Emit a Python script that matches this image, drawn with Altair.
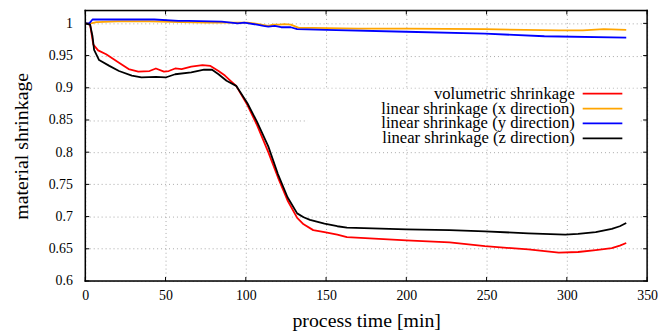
import altair as alt
import pandas as pd

# --- data ---
t_vol = [0, 3, 5, 8, 13, 21, 27, 33, 40, 44, 49, 52, 56, 60, 66, 73, 78, 83, 87, 90, 94, 101, 107, 114, 120, 126, 132, 136, 142, 149, 157, 163, 200, 227, 249, 276, 295, 307, 318, 328, 333, 337]
v_vol = [1.0, 0.998, 0.967, 0.958, 0.952, 0.939, 0.929, 0.925, 0.926, 0.930, 0.925, 0.926, 0.930, 0.929, 0.933, 0.935, 0.934, 0.926, 0.919, 0.912, 0.903, 0.873, 0.842, 0.800, 0.761, 0.725, 0.698, 0.688, 0.679, 0.676, 0.672, 0.668, 0.663, 0.660, 0.654, 0.649, 0.644, 0.645, 0.648, 0.651, 0.655, 0.659]

t_x = [0, 3.5, 7, 20, 40, 60, 76, 95, 101, 108, 114, 117, 121, 124, 128, 130, 133, 142, 170, 200, 249, 295, 310, 323, 337]
v_x = [1.0, 1.0, 1.002, 1.003, 1.003, 1.002, 1.001, 1.001, 1.001, 0.999, 0.996, 0.998, 0.998, 0.999, 0.998, 0.996, 0.993, 0.993, 0.992, 0.992, 0.991, 0.989, 0.989, 0.991, 0.990]

t_y = [0, 2.5, 4.5, 10, 25, 43, 58, 64, 78, 85, 95, 99, 107, 111, 114, 118, 122, 128, 132, 150, 200, 249, 286, 337]
v_y = [1.0, 1.0, 1.006, 1.006, 1.006, 1.006, 1.004, 1.004, 1.003, 1.0026, 1.0, 1.001, 0.998, 0.996, 0.995, 0.996, 0.994, 0.994, 0.991, 0.990, 0.987, 0.984, 0.980, 0.978]

t_z = [0, 3, 4.5, 5.5, 8.6, 15, 21, 29, 35, 44, 50, 56, 66, 74, 79, 83, 88, 94, 101, 107, 114, 120, 126, 132, 136, 140, 149, 157, 163, 200, 227, 249, 276, 299, 307, 318, 328, 333, 337]
v_z = [1.0, 0.998, 0.98, 0.959, 0.943, 0.934, 0.926, 0.919, 0.916, 0.917, 0.916, 0.921, 0.924, 0.928, 0.928, 0.921, 0.911, 0.903, 0.876, 0.847, 0.809, 0.766, 0.730, 0.705, 0.699, 0.695, 0.689, 0.685, 0.683, 0.680, 0.679, 0.677, 0.674, 0.672, 0.673, 0.676, 0.681, 0.685, 0.690]

series_names = ["volumetric shrinkage", "linear shrinkage (x direction)",
                "linear shrinkage (y direction)", "linear shrinkage (z direction)"]
series_colors = ["#ff0000", "#ffa500", "#0000ff", "#000000"]
series_t = [t_vol, t_x, t_y, t_z]
series_v = [v_vol, v_x, v_y, v_z]

x_ticks = [0, 50, 100, 150, 200, 250, 300, 350]
y_ticks = [0.6, 0.65, 0.7, 0.75, 0.8, 0.85, 0.9, 0.95, 1.0]

W, H = 567, 273
FONT = "Liberation Serif"

xs = alt.Scale(domain=[0, 350], nice=False, zero=False)
ys = alt.Scale(domain=[0.6, 1.02], nice=False, zero=False)

x_axis = alt.Axis(values=x_ticks, title="process time [min]", grid=True, ticks=False, domain=False,
                  labelFont=FONT, labelFontSize=14, labelColor="black", labelPadding=8,
                  labelOverlap=False, labelFlush=False,
                  titleFont=FONT, titleFontSize=20, titleFontWeight="normal", titleColor="black",
                  titleY=40, titleBaseline="middle",
                  gridColor="#a8a8a8", gridDash=[1, 3], gridWidth=1)
y_axis = alt.Axis(values=y_ticks, title="material shrinkage", grid=True, ticks=False, domain=False,
                  labelFont=FONT, labelFontSize=14, labelColor="black", labelPadding=13,
                  labelOverlap=False, labelFlush=False,
                  labelExpr="datum.value == 1 ? '1' : format(datum.value, '.2~f')",
                  titleFont=FONT, titleFontSize=20, titleFontWeight="normal", titleColor="black",
                  titleX=-64, titleY=H / 2, titleAngle=270, titleAlign="center", titleBaseline="middle",
                  gridColor="#a8a8a8", gridDash=[1, 3], gridWidth=1)


def X(field):
    return alt.X(field, scale=xs, axis=x_axis)


def Y(field):
    return alt.Y(field, scale=ys, axis=y_axis)


base_df = pd.DataFrame({"t": [0.0], "v": [0.6]})
axes_layer = alt.Chart(base_df).mark_point(opacity=0).encode(x=X("t:Q"), y=Y("v:Q"))

layers = [axes_layer]

# white opaque key box
layers.append(alt.Chart(base_df).mark_rect(color="white").encode(
    x=alt.value(224), x2=alt.value(560), y=alt.value(79), y2=alt.value(137)))

# inward ticks
xt = pd.DataFrame({"t": x_ticks})
yt = pd.DataFrame({"v": y_ticks})
tick_len = 4
layers.append(alt.Chart(xt).mark_rule(color="black", strokeWidth=1).encode(
    x=X("t:Q"), y=alt.value(H), y2=alt.value(H - tick_len)))
layers.append(alt.Chart(xt).mark_rule(color="black", strokeWidth=1).encode(
    x=X("t:Q"), y=alt.value(0), y2=alt.value(tick_len)))
layers.append(alt.Chart(yt).mark_rule(color="black", strokeWidth=1).encode(
    y=Y("v:Q"), x=alt.value(0), x2=alt.value(tick_len)))
layers.append(alt.Chart(yt).mark_rule(color="black", strokeWidth=1).encode(
    y=Y("v:Q"), x=alt.value(W), x2=alt.value(W - tick_len)))

# data lines
for name, col, tt, vv in zip(series_names, series_colors, series_t, series_v):
    df = pd.DataFrame({"t": tt, "v": vv, "series": name})
    layers.append(alt.Chart(df).mark_line(color=col, strokeWidth=1.8, strokeJoin="round").encode(
        x=X("t:Q"), y=Y("v:Q"), order="t:Q"))

# key (gnuplot style: text right-aligned, sample line to its right)
for i, (name, col) in enumerate(zip(series_names, series_colors)):
    ry = 84 + 15 * i
    kdf = pd.DataFrame({"series": [name]})
    layers.append(alt.Chart(kdf).mark_text(align="right", baseline="middle", font=FONT,
                                           fontSize=16.8, color="black").encode(
        text="series:N", x=alt.value(494), y=alt.value(ry)))
    layers.append(alt.Chart(kdf).mark_rule(color=col, strokeWidth=1.8).encode(
        x=alt.value(502), x2=alt.value(542), y=alt.value(ry)))

# plot border: four sides
for (x1, x2, y1, y2) in [(0, W, 0, 0), (0, W, H, H), (0, 0, 0, H), (W, W, 0, H)]:
    layers.append(alt.Chart(base_df).mark_rule(color="black", strokeWidth=1.5, strokeCap="square").encode(
        x=alt.value(x1), x2=alt.value(x2), y=alt.value(y1), y2=alt.value(y2)))

chart = alt.layer(*layers).properties(
    width=W, height=H,
    autosize=alt.AutoSizeParams(type="none"),
    padding={"left": 78, "top": 1, "right": 11, "bottom": 54},
).configure_view(stroke="black", strokeWidth=1.5).configure(background="white")

chart.save("out.html", embed_options={"renderer": "svg", "actions": False})
